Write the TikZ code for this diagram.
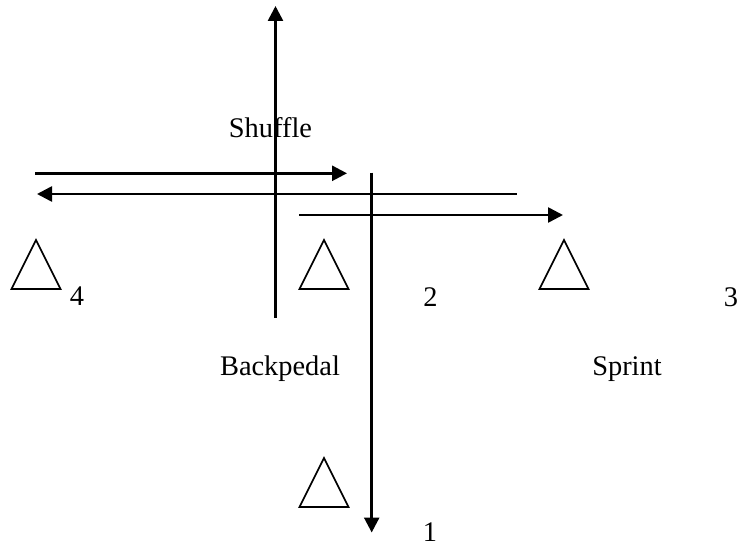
\documentclass[tikz,border=0pt]{standalone}
\usepackage{fontspec}
\setmainfont{Liberation Serif}
\usetikzlibrary{arrows.meta}
\tikzset{
  run/.style={line width=1.3pt,-{Triangle[length=7.5pt,width=7.5pt]}},
  cone/.style={line width=0.8pt,line join=miter},
  lbl/.style={font=\fontsize{14.2}{17}\selectfont,anchor=base,inner sep=0pt},
}

\begin{document}
\begin{tikzpicture}[x=0.5pt,y=-0.5pt]
  \useasboundingbox (0,0) rectangle (739,545);
  % cones, base centre given
  \foreach \cx/\cy/\cname in {36/289/c4, 324/289/c2, 564/289/c3, 324/507/c1}{
    \coordinate (\cname) at (\cx,\cy);
    \draw[cone] (\cx-24.5,\cy) -- (\cx,\cy-49) -- (\cx+24.5,\cy) -- cycle;
  }
  % run lines
  \coordinate (shuf-a) at (275.5,318);
  \coordinate (shuf-b) at (275.5,6);
  \coordinate (back-a) at (371.7,172.7);
  \coordinate (back-b) at (371.7,532.5);
  \coordinate (out-a) at (35,173.3);
  \coordinate (out-b) at (347,173.3);
  \coordinate (ret-a) at (516.7,194);
  \coordinate (ret-b) at (37,194);
  \coordinate (spr-a) at (299,215);
  \coordinate (spr-b) at (563,215);
  \draw[run] (shuf-a) -- (shuf-b);
  \draw[run] (back-a) -- (back-b);
  \draw[run] (out-a) -- (out-b);
  \draw[run] (ret-a) -- (ret-b);
  \draw[run] (spr-a) -- (spr-b);
  % labels
  \node[lbl] (shuffle) at (270.5,137.5) {Shuffle};
  \node[lbl] (backpedal) at (280,375) {Backpedal};
  \node[lbl] (sprint) at (627,375) {Sprint};
  \node[lbl] (n4) at (77,306) {4};
  \node[lbl] (n2) at (430.5,306.5) {2};
  \node[lbl] (n3) at (731,306.5) {3};
  \node[lbl] (n1) at (430,541.5) {1};
\end{tikzpicture}
\end{document}
